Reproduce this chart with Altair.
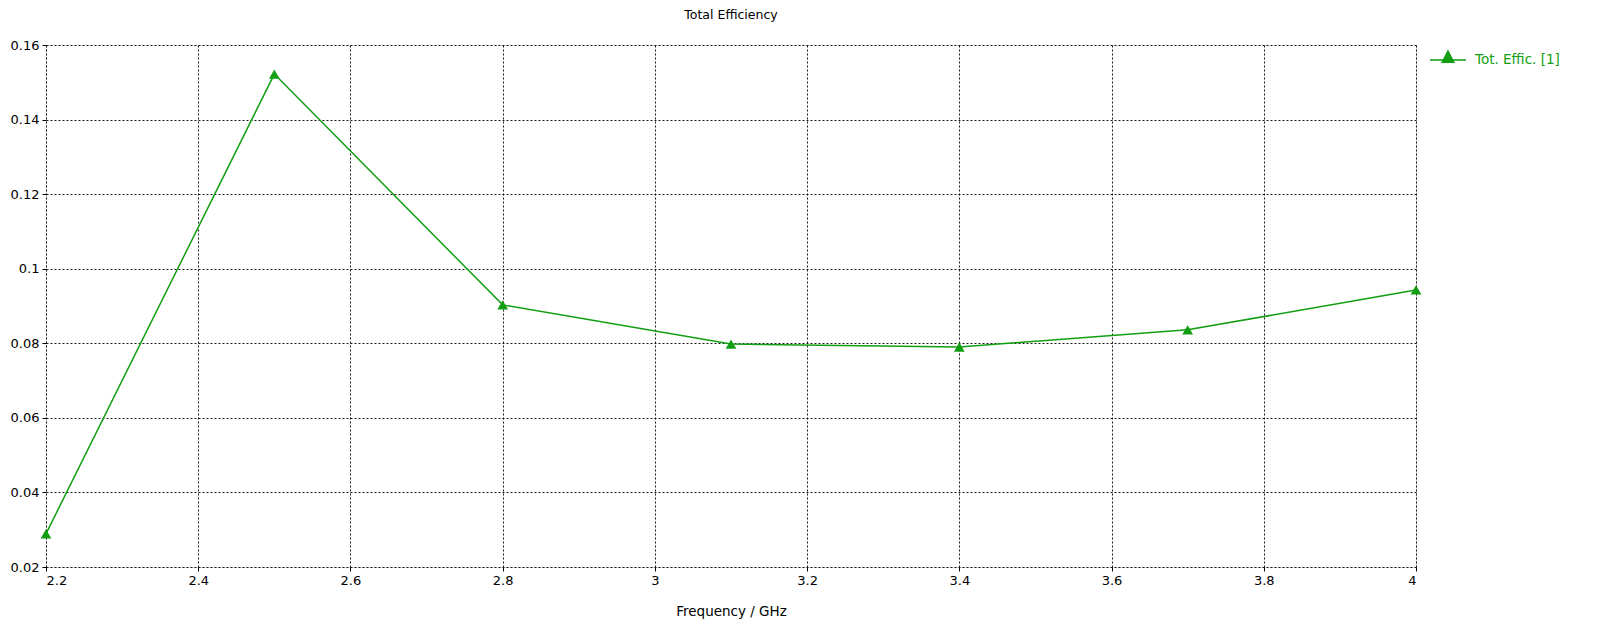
import altair as alt
import pandas as pd

freq = [2.2, 2.5, 2.8, 3.1, 3.4, 3.7, 4.0]
eff = [0.0289, 0.1522, 0.0903, 0.0798, 0.0790, 0.0836, 0.0943]
series = ["Tot. Effic. [1]"] * len(freq)
x_ticks = [2.2, 2.4, 2.6, 2.8, 3.0, 3.2, 3.4, 3.6, 3.8, 4.0]
y_ticks = [0.02, 0.04, 0.06, 0.08, 0.10, 0.12, 0.14, 0.16]

df = pd.DataFrame({"f": freq, "e": eff, "s": series})

GREEN = "#129e12"
FONT = "DejaVu Sans"

color = alt.Color(
    "s:N",
    scale=alt.Scale(domain=["Tot. Effic. [1]"], range=[GREEN]),
    legend=alt.Legend(
        title=None,
        orient="none",
        legendX=1383,
        legendY=-4,
        symbolType="M-1,0L1,0M0,-0.5L0.32,0.12L-0.32,0.12Z",
        symbolSize=1300,
        symbolFillColor=GREEN,
        symbolStrokeColor=GREEN,
        symbolStrokeWidth=1.5,
        labelColor=GREEN,
        labelFont=FONT,
        labelFontSize=13.5,
        labelOffset=8,
    ),
)

x = alt.X(
    "f:Q",
    scale=alt.Scale(domain=[2.2, 4.0], nice=False, zero=False),
    axis=alt.Axis(
        title="Frequency / GHz",
        values=x_ticks,
        format="~g",
        grid=True,
        gridColor="black",
        gridDash=[2, 2],
        gridOpacity=0.9,
        domain=False,
        tickColor="black",
        tickSize=4,
        labelFont=FONT,
        labelFontSize=13,
        labelColor="black",
        labelPadding=3,
        titleFont=FONT,
        titleFontSize=13.5,
        titleFontWeight="normal",
        titleColor="black",
        titlePadding=17,
    ),
)

y = alt.Y(
    "e:Q",
    scale=alt.Scale(domain=[0.02, 0.16], nice=False, zero=False),
    axis=alt.Axis(
        title=None,
        values=y_ticks,
        format="~g",
        grid=True,
        gridColor="black",
        gridDash=[2, 2],
        gridOpacity=0.9,
        domain=False,
        tickColor="black",
        tickSize=4,
        labelFont=FONT,
        labelFontSize=13,
        labelColor="black",
        labelPadding=3,
    ),
)

line = alt.Chart(df).mark_line(strokeWidth=1.5).encode(x=x, y=y, color=color)
pts = alt.Chart(df).mark_point(
    shape="triangle-up", filled=True, size=115, opacity=1
).encode(x=x, y=y, color=alt.Color("s:N", scale=alt.Scale(domain=["Tot. Effic. [1]"], range=[GREEN]), legend=None))

chart = (
    alt.layer(line, pts)
    .properties(
        width=1370,
        height=522,
        title=alt.TitleParams(
            "Total Efficiency",
            font=FONT,
            fontSize=12.5,
            fontWeight="normal",
            color="black",
            anchor="middle",
            offset=18,
        ),
        autosize=alt.AutoSizeParams(type="none"),
        padding={"left": 38, "top": 37, "right": 170, "bottom": 55},
    )
    .configure_view(stroke="black", strokeWidth=1.5)
    .configure(background="white")
)

chart.save("out.html", embed_options={"renderer": "svg", "actions": False})
